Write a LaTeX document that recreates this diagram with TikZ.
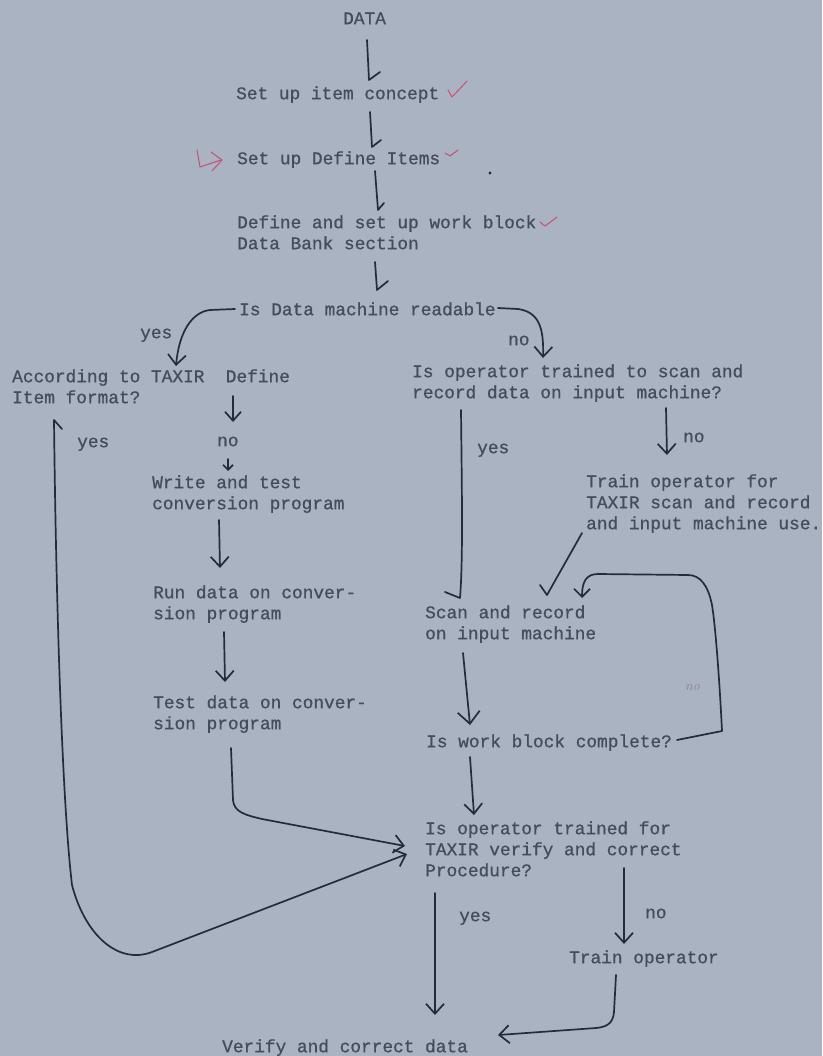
\documentclass[tikz,border=0pt]{standalone}
\usepackage{fontspec}
\newfontfamily\twfont[FakeBold=0.8]{Liberation Mono}
\usetikzlibrary{arrows.meta,calc}
\definecolor{paper}{RGB}{169,179,194}
\definecolor{typed}{RGB}{70,76,92}
\definecolor{ink}{RGB}{38,43,56}
\definecolor{redink}{RGB}{200,80,112}
\definecolor{faint}{RGB}{140,132,148}
\newcommand\firstln{\rule{0pt}{14pt}}
\begin{document}
\begin{tikzpicture}[x=1pt,y=-1pt,
  txt/.style={font=\twfont\fontsize{17.8}{21}\selectfont, text=typed, anchor=north west, align=left, inner sep=0pt},
  hand/.style={draw=ink, line width=1.7pt, line cap=round, line join=round},
  vtip/.style={-{Straight Barb[length=10pt,width=18pt]}},
  redmark/.style={draw=redink, line width=1pt, line cap=round, line join=round}]
\fill[paper] (0,0) rectangle (822,1056);
\useasboundingbox (0,0) rectangle (822,1056);

% typed texts
\node[txt] (data) at (343,10) {\firstln DATA};
\node[txt] (concept) at (236,85) {\firstln Set up item concept};
\node[txt] (items) at (237,150) {\firstln Set up Define Items};
\node[txt] (block) at (237,214) {\firstln Define and set up work block\\Data Bank section};
\node[txt] (readable) at (239,301) {\firstln Is Data machine readable};
\node[txt] (yes1) at (140,324) {\firstln yes};
\node[txt] (no1) at (508,331) {\firstln no};
\node[txt] (taxir) at (12,368) {\firstln According to TAXIR~~Define\\Item format?};
\node[txt] (operq) at (412,363) {\firstln Is operator trained to scan and\\record data on input machine?};
\node[txt] (yes2) at (77,433) {\firstln yes};
\node[txt] (no2) at (217,432) {\firstln no};
\node[txt] (yes3) at (477,439) {\firstln yes};
\node[txt] (no3) at (683,428) {\firstln no};
\node[txt] (write) at (152,474) {\firstln Write and test\\conversion program};
\node[txt] (train1) at (586,473) {\firstln Train operator for\\TAXIR scan and record\\and input machine use.};
\node[txt] (run) at (153,584) {\firstln Run data on conver-\\sion program};
\node[txt] (scan) at (425,604) {\firstln Scan and record\\on input machine};
\node[txt] (test) at (153,694) {\firstln Test data on conver-\\sion program};
\node[txt] (complete) at (426,733) {\firstln Is work block complete?};
\node[font=\itshape\fontsize{14}{14}\selectfont, text=faint, anchor=base west, inner sep=0pt] (no4) at (685,690) {no};
\node[txt] (verifyq) at (425,820) {\firstln Is operator trained for\\TAXIR verify and correct\\Procedure?};
\node[txt] (yes4) at (459,907) {\firstln yes};
\node[txt] (no5) at (645,904) {\firstln no};
\node[txt] (train2) at (569,949) {\firstln Train operator};
\node[txt] (verify) at (222,1038) {\firstln Verify and correct data};

% hand-drawn connectors (single-barb heads drawn as pen strokes)
\draw[hand] ($(data.north west)+(24,30)$) -- ($(concept.north west)+(133,-5)$) -- ++(11,-8);
\draw[hand] ($(concept.north west)+(134,27)$) -- ($(items.north west)+(135,-3)$) -- ++(9,-7);
\draw[hand] ($(items.north west)+(138,21)$) -- ($(block.north west)+(141,-4)$) -- ++(6,-7);
\draw[hand] ($(block.north west)+(138,48)$) -- ($(readable.north west)+(138,-11)$) -- ++(11,-9);
\draw[hand,vtip] ($(readable.north west)+(-4,8)$) -- (210,310) .. controls (192,312) and (179,332) .. ($(taxir.north west)+(164,-2)$);
\draw[hand,vtip] ($(readable.north west)+(259,7)$) -- (518,309) .. controls (538,312) and (544,326) .. ($(operq.north west)+(131,-5)$);
\draw[hand,-{Straight Barb[length=9pt,width=16pt]}] ($(taxir.north west)+(221,28)$) -- ($(no2.north west)+(16,-10)$);
\draw[hand,-{Straight Barb[length=5pt,width=10pt]}] ($(no2.north west)+(11,27)$) -- ($(write.north west)+(76,-3)$);
\draw[hand,vtip] ($(write.north west)+(67,46)$) -- ($(run.north west)+(67,-16)$);
\draw[hand,vtip] ($(run.north west)+(71,48)$) -- ($(test.north west)+(72,-12)$);
\draw[hand,vtip] ($(test.north west)+(78,54)$) -- (233,800) .. controls (234,812) and (245,815) .. (262,819) -- ($(verifyq.north west)+(-20,26)$);
\draw[hand,{Straight Barb[length=10pt,width=18pt]}-]
  ($(verifyq.north west)+(-18,34)$) -- (152,952) .. controls (118,965) and (85,935) .. (72,885)
  .. controls (62,800) and (56,600) .. ($(taxir.north west)+(42,52)$) -- ++(8,9);
\draw[hand] ($(operq.north west)+(49,47)$) .. controls (462,500) and (463,560) .. ($(scan.north west)+(35,-6)$) -- ++(-15,-6);
\draw[hand,vtip] ($(operq.north west)+(254,45)$) -- ($(train1.north west)+(81,-18)$);
\draw[hand] ($(train1.north west)+(-4,60)$) -- ($(scan.north west)+(122,-9)$) -- ++(-7,-10);
\draw[hand,-{Straight Barb[length=8pt,width=16pt]}] ($(complete.north west)+(251,7)$) -- (722,731)
  .. controls (720,690) and (716,630) .. (712,605) .. controls (708,585) and (700,575) .. (688,575)
  -- (598,574) .. controls (586,574) and (582,582) .. ($(scan.north west)+(157,-6)$);
\draw[hand,-{Straight Barb[length=12pt,width=22pt]}] ($(scan.north west)+(38,49)$) -- ($(complete.north west)+(44,-8)$);
\draw[hand,vtip] ($(complete.north west)+(44,24)$) -- ($(verifyq.north west)+(49,-5)$);
\draw[hand,vtip] ($(verifyq.north west)+(10,73)$) -- ($(verify.north west)+(213,-23)$);
\draw[hand,vtip] ($(verifyq.north west)+(199,48)$) -- ($(train2.north west)+(55,-5)$);
\draw[hand,vtip] ($(train2.north west)+(47,26)$) -- (614,1012) .. controls (613,1024) and (606,1027) .. (596,1028) -- ($(verify.north west)+(276,-3)$);

% red marks and stray dot
\draw[redmark] (448,90) -- (452,97) -- (467,81);
\draw[redmark] (445,153) -- (450,156) -- (458,150);
\draw[redmark] (540,222) -- (545,226) -- (557,217);
\draw[redmark] (197,150) -- (200,167) -- (221,160);
\draw[redmark] (211,152) -- (222,160) -- (212,171);
\fill[ink] (490,173) circle (1.6);
\end{tikzpicture}
\end{document}
